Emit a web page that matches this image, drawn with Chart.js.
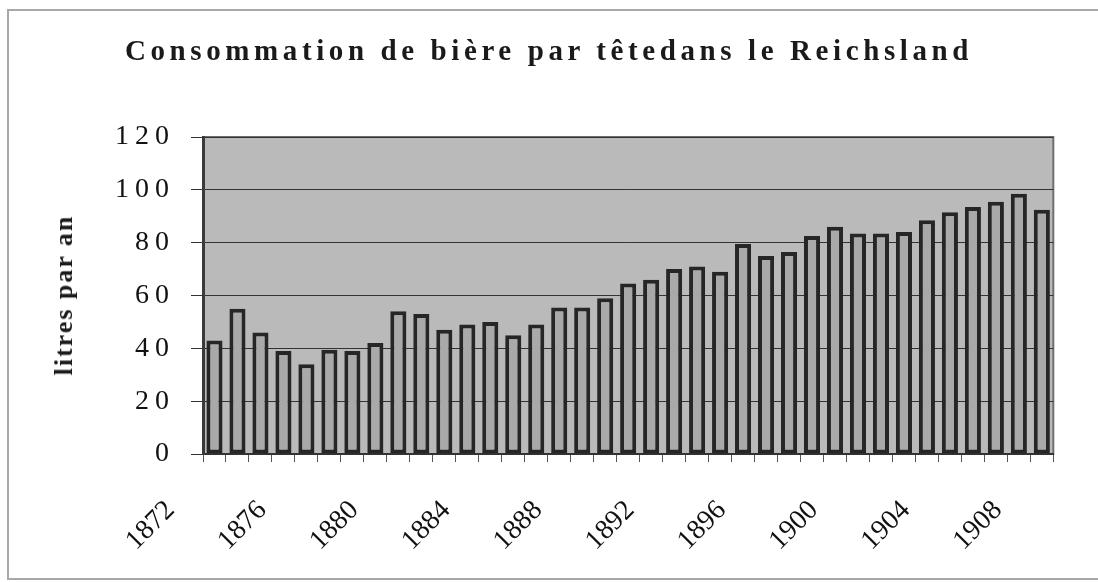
<!DOCTYPE html>
<html>
<head>
<meta charset="utf-8">
<script src="https://cdn.jsdelivr.net/npm/chart.js@4"></script>
<style>
	body { margin: 0; background: #fff; }
	#frame { position: absolute; left: 7px; top: 9px; width: 1100px; height: 567px; border: 2px solid #a8a8a8; }
	#titre { position: absolute; left: 0; top: 34px; width: 1098px; text-align: center; font: bold 29px "Liberation Serif"; letter-spacing: 4.6px; color: #1a1a1a; }
	#ytitre { position: absolute; left: 64px; top: 295px; transform: translate(-50%, -50%) rotate(-90deg); white-space: nowrap; font: bold 26px "Liberation Serif"; letter-spacing: 2px; color: #1a1a1a; }
	#wrap { position: absolute; left: 0; top: 0; width: 1098px; height: 582px; }
</style>
</head>
<body>
<div id="frame"></div>
<div id="wrap"><canvas id="myBarChart"></canvas></div>
<div id="titre">Consommation de bière par têtedans le Reichsland</div>
<div id="ytitre">litres par an</div>
<script>
/* DATA */
var years = ['1872', '1873', '1874', '1875', '1876', '1877', '1878', '1879', '1880', '1881',
	'1882', '1883', '1884', '1885', '1886', '1887', '1888', '1889', '1890', '1891',
	'1892', '1893', '1894', '1895', '1896', '1897', '1898', '1899', '1900', '1901',
	'1902', '1903', '1904', '1905', '1906', '1907', '1908'];
var litres = [43, 55, 46, 39, 34, 39.5, 39, 42, 54, 53,
	47, 49, 50, 45, 49, 55.5, 55.5, 59, 64.5, 66,
	70, 71, 69, 79.5, 75, 76.5, 82.5, 86, 83.5, 83.5,
	84, 88.5, 91.5, 93.5, 95.5, 98.5, 92.5];
var shownYears = ['1872', '1876', '1880', '1884', '1888', '1892', '1896', '1900', '1904', '1908'];
var yTicks = [0, 20, 40, 60, 80, 100, 120];

/* PLOT BACKGROUND + LETTER SPACING */
var plotBg = {
	id: 'plotBg',
	beforeDraw: function(chart) {
		var ctx = chart.ctx, a = chart.chartArea;
		ctx.save();
		ctx.fillStyle = '#bababa';
		ctx.fillRect(a.left, a.top, a.right - a.left, a.bottom - a.top);
		ctx.strokeStyle = '#6e6e6e';
		ctx.lineWidth = 2;
		ctx.strokeRect(a.left, a.top, a.right - a.left, a.bottom - a.top);
		ctx.restore();
		ctx.letterSpacing = '6px';
	},
	beforeDatasetsDraw: function(chart) {
		chart.ctx.letterSpacing = '0px';
	}
};

var ctxBar = document.getElementById("myBarChart").getContext("2d");
var myBarChart = new Chart(ctxBar, {
	type: 'bar',
	data: {
		labels: years,
		datasets: [{
			data: litres,
			backgroundColor: '#a9a9a9',
			borderColor: '#262626',
			borderWidth: 4,
			borderSkipped: false,
			barPercentage: 0.7,
			categoryPercentage: 1
		}]
	},
	options: {
		responsive: true,
		maintainAspectRatio: false,
		animation: false,
		layout: {
			padding: { left: 103, right: 30, top: 137, bottom: 0 }
		},
		plugins: {
			legend: { display: false },
			tooltip: { enabled: false }
		},
		scales: {
			x: {
				afterFit: function(scale) { scale.height = 128; },
				grid: {
					display: true,
					offset: true,
					drawOnChartArea: false,
					drawTicks: true,
					tickLength: 8,
					color: '#555'
				},
				border: { color: '#333', width: 2 },
				ticks: {
					z: 1,
					autoSkip: false,
					maxRotation: 45,
					minRotation: 45,
					padding: 32,
					labelOffset: -44,
					color: '#111',
					font: { family: 'Liberation Serif', size: 28 },
					callback: function(value, index) {
						var y = years[index];
						return shownYears.indexOf(y) >= 0 ? y : '';
					}
				}
			},
			y: {
				min: 0,
				max: 120,
				afterFit: function(scale) { scale.width = 100; },
				afterBuildTicks: function(scale) {
					scale.ticks = yTicks.map(function(v) { return { value: v }; });
				},
				grid: {
					color: '#333',
					lineWidth: 1,
					drawTicks: true,
					tickLength: 12
				},
				border: { color: '#3a3a3a', width: 3 },
				ticks: {
					padding: 16,
					color: '#111',
					font: { family: 'Liberation Serif', size: 28 }
				}
			}
		}
	},
	plugins: [plotBg]
});
</script>
</body>
</html>
